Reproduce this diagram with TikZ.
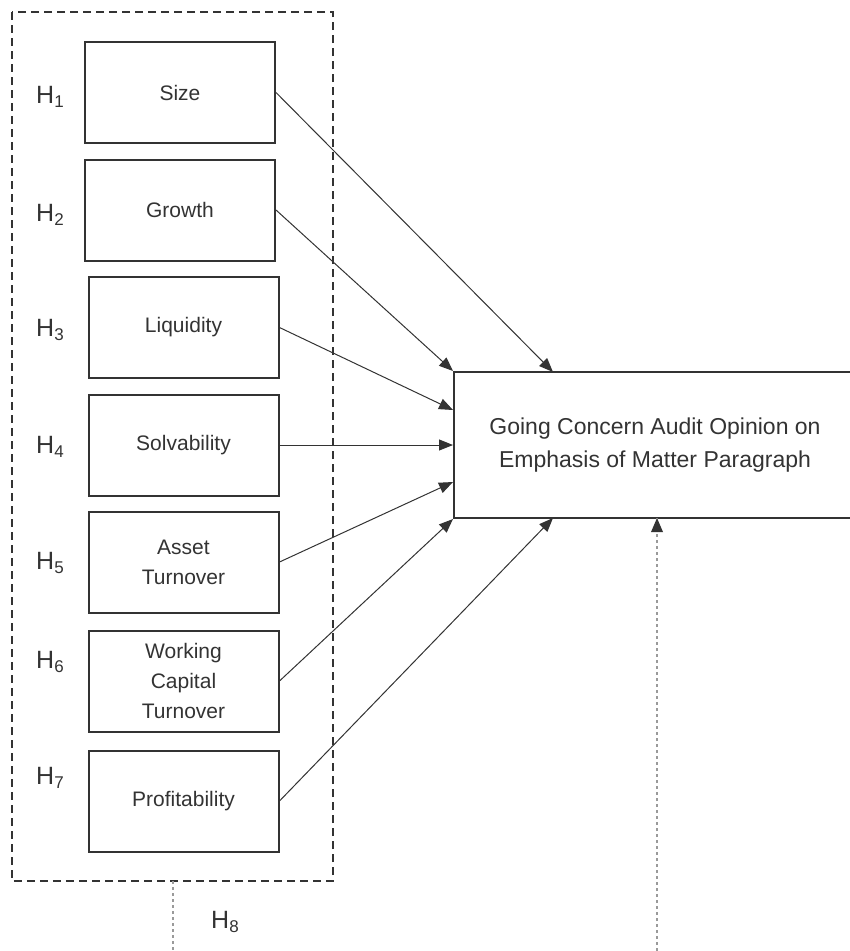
\documentclass[tikz,border=0pt]{standalone}
\usepackage{fontspec}
\setmainfont{Liberation Sans}
\usetikzlibrary{arrows.meta}
\definecolor{lineGrey}{HTML}{333333}
\definecolor{dotGrey}{HTML}{9A9A9A}
\newcommand{\hyp}[1]{H\raisebox{-0.35ex}{\fontsize{17}{17}\selectfont #1}}

\begin{document}
\begin{tikzpicture}[x=1pt, y=-1pt, text=lineGrey,
  var/.style={draw=lineGrey, line width=2pt, minimum width=190pt, minimum height=101pt,
    align=center, font=\fontsize{21}{30}\selectfont},
  hlab/.style={font=\fontsize{25}{25}\selectfont},
  link/.style={draw=lineGrey, line width=1pt, -{Triangle[length=14pt,width=11pt]}},
  dots/.style={draw=dotGrey, line width=1.2pt, dash pattern=on 3pt off 3pt}]
  \useasboundingbox (0,0) rectangle (850,951);
  % dashed frame round the seven variables
  \draw[lineGrey, line width=2pt, dash pattern=on 8pt off 5pt] (12,12) rectangle (333,881);
  % the variables
  \node[var] (size) at (180,92.5) {Size};
  \node[var] (growth) at (180,210) {Growth};
  \node[var] (liq) at (183.5,327.5) {Liquidity};
  \node[var] (solv) at (183.5,445) {Solvability};
  \node[var] (asset) at (183.5,562) {Asset\\Turnover};
  \node[var] (wcap) at (183.5,681) {Working\\Capital\\Turnover};
  \node[var] (prof) at (183.5,801) {Profitability};
  % hypothesis labels
  \node[hlab] (h1) at (50,97) {\hyp{1}};
  \node[hlab] (h2) at (50,215) {\hyp{2}};
  \node[hlab] (h3) at (50,330) {\hyp{3}};
  \node[hlab] (h4) at (50,447) {\hyp{4}};
  \node[hlab] (h5) at (50,563) {\hyp{5}};
  \node[hlab] (h6) at (50,662) {\hyp{6}};
  \node[hlab] (h7) at (50,778) {\hyp{7}};
  \node[hlab] (h8) at (225,922) {\hyp{8}};
  % dependent variable
  \node[draw=lineGrey, line width=2pt, minimum width=402pt, minimum height=146pt, align=center,
    font=\fontsize{23}{33}\selectfont] (goc) at (655,445)
    {Going Concern Audit Opinion on\\Emphasis of Matter Paragraph};
  \coordinate (t1) at (553,372);
  \coordinate (t3) at (453,410);
  \coordinate (t5) at (453,482);
  \coordinate (t7) at (553,518);
  \coordinate (t8) at (657,518);
  \coordinate (b1) at (173,881);
  \coordinate (b2) at (173,951);
  \coordinate (b3) at (657,951);
  % arrows
  \draw[link] (size.east) -- (t1);
  \draw[link] (growth.east) -- (goc.north west);
  \draw[link] (liq.east) -- (t3);
  \draw[link] (solv.east) -- (goc.west);
  \draw[link] (asset.east) -- (t5);
  \draw[link] (wcap.east) -- (goc.south west);
  \draw[link] (prof.east) -- (t7);
  % moderating lines
  \draw[dots] (b1) -- (b2);
  \draw[dots] (b3) -- (t8);
  \fill[lineGrey] (t8) -- ++(-6,14) -- ++(12,0) -- cycle;
\end{tikzpicture}
\end{document}
